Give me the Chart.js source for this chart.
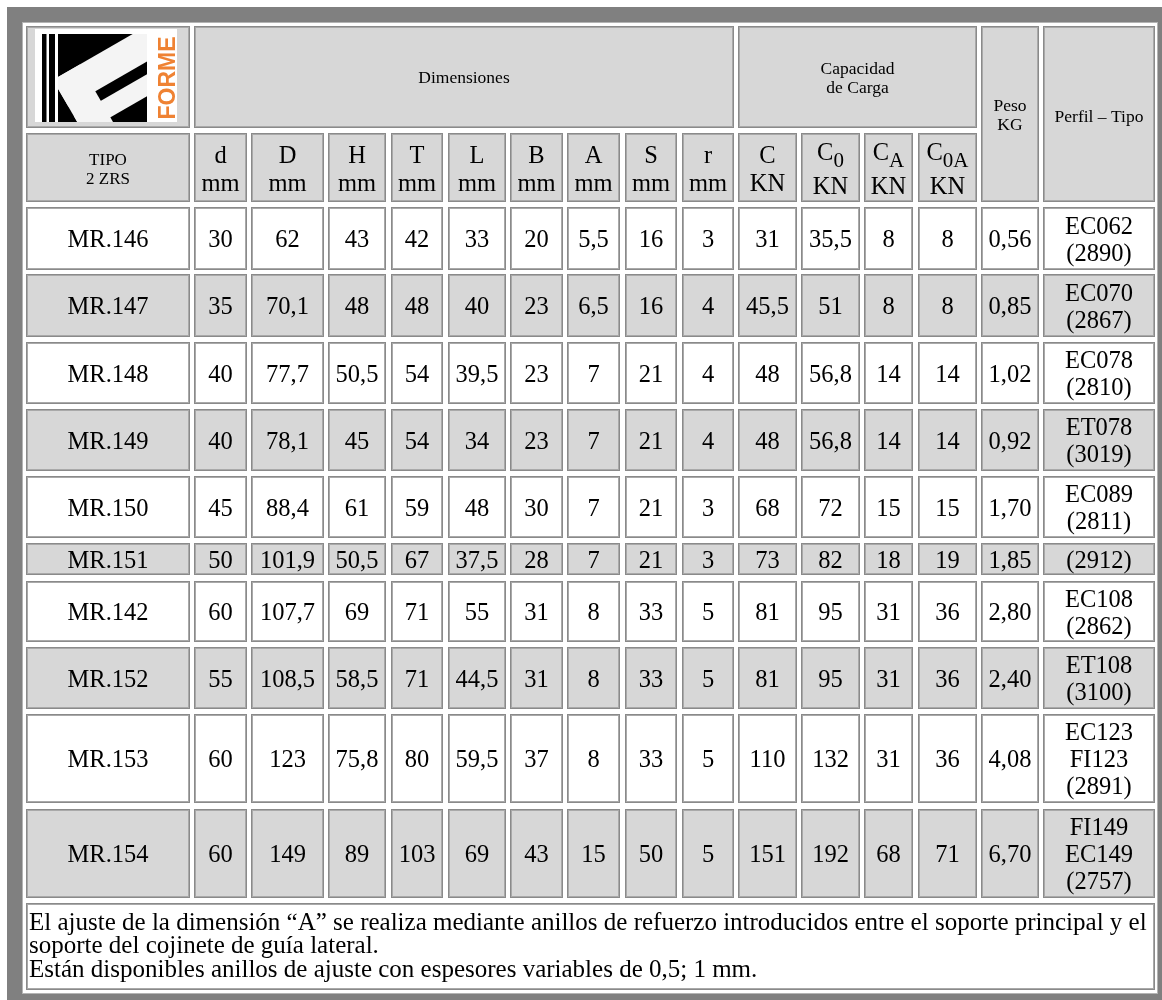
<!DOCTYPE html>
<html lang="es">
<head>
<meta charset="utf-8">
<title>Soportes MR - Forme</title>
<script src="https://cdn.jsdelivr.net/npm/chart.js@4.4.1/dist/chart.umd.min.js"></script>
<style>
  html, body { margin: 0; padding: 0; background: #fff; }
  #wrap { width: 1162px; height: 1000px; }
</style>
</head>
<body>
<div id="wrap"><canvas id="tabla" width="1162" height="1000"></canvas></div>
<script>
// datos de la tabla
const tipos = ['MR.146', 'MR.147', 'MR.148', 'MR.149', 'MR.150', 'MR.151', 'MR.142', 'MR.152', 'MR.153', 'MR.154'];
const dMm = [30, 35, 40, 40, 45, 50, 60, 55, 60, 60];
const DMm = [62, 70.1, 77.7, 78.1, 88.4, 101.9, 107.7, 108.5, 123, 149];
const HMm = [43, 48, 50.5, 45, 61, 50.5, 69, 58.5, 75.8, 89];
const TMm = [42, 48, 54, 54, 59, 67, 71, 71, 80, 103];
const LMm = [33, 40, 39.5, 34, 48, 37.5, 55, 44.5, 59.5, 69];
const BMm = [20, 23, 23, 23, 30, 28, 31, 31, 37, 43];
const AMm = [5.5, 6.5, 7, 7, 7, 7, 8, 8, 8, 15];
const SMm = [16, 16, 21, 21, 21, 21, 33, 33, 33, 50];
const rMm = [3, 4, 4, 4, 3, 3, 5, 5, 5, 5];
const cKN = [31, 45.5, 48, 48, 68, 73, 81, 81, 110, 151];
const c0KN = [35.5, 51, 56.8, 56.8, 72, 82, 95, 95, 132, 192];
const cAKN = [8, 8, 14, 14, 15, 18, 31, 31, 31, 68];
const c0AKN = [8, 8, 14, 14, 15, 19, 36, 36, 36, 71];
const pesoKg = [0.56, 0.85, 1.02, 0.92, 1.70, 1.85, 2.80, 2.40, 4.08, 6.70];
const perfiles = [
    ['EC062', '(2890)'], ['EC070', '(2867)'], ['EC078', '(2810)'], ['ET078', '(3019)'],
    ['EC089', '(2811)'], ['(2912)'], ['EC108', '(2862)'], ['ET108', '(3100)'],
    ['EC123', 'FI123', '(2891)'], ['FI149', 'EC149', '(2757)']
];

// textos de cabecera
const cabTipo = ['TIPO', '2 ZRS'];
const colSimbolo = ['d', 'D', 'H', 'T', 'L', 'B', 'A', 'S', 'r', 'C', 'C', 'C', 'C'];
const colSubindice = ['', '', '', '', '', '', '', '', '', '', '0', 'A', '0A'];
const colUnidad = ['mm', 'mm', 'mm', 'mm', 'mm', 'mm', 'mm', 'mm', 'mm', 'KN', 'KN', 'KN', 'KN'];
const cabDimensiones = ['Dimensiones'];
const cabCapacidad = ['Capacidad', 'de Carga'];
const cabPeso = ['Peso', 'KG'];
const cabPerfil = ['Perfil – Tipo'];
const notas = [
    'El ajuste de la dimensión “A” se realiza mediante anillos de refuerzo introducidos entre el soporte principal y el',
    'soporte del cojinete de guía lateral.',
    'Están disponibles anillos de ajuste con espesores variables de 0,5; 1 mm.'
];

// maquetacion (bordes de celdas en unidades de escala)
const colLeft = [26, 194, 251, 328, 391, 448, 510, 567, 625, 682, 738, 801, 864, 918, 981, 1043];
const colRight = [190, 247, 324, 386, 443, 506, 563, 620, 677, 734, 797, 860, 913, 977, 1039, 1155];
const rowTop = [207, 274, 342, 409, 476, 543, 581, 647, 714, 809];
const rowBottom = [270, 337, 404, 471, 538, 575, 642, 709, 803, 898];

const SERIF = "'Liberation Serif', 'Times New Roman', serif";
const GRIS = '#d7d7d7';
const TAM = 24.5;

const coma = v => String(v).replace('.', ',');

const columnas = [
    tipos.map(t => [t]),
    ...[dMm, DMm, HMm, TMm, LMm, BMm, AMm, SMm, rMm, cKN, c0KN, cAKN, c0AKN].map(arr => arr.map(v => [coma(v)])),
    pesoKg.map(v => [v.toFixed(2).replace('.', ',')]),
    perfiles
];

const datasets = columnas.map((col, c) => ({
    label: 'col' + c,
    texto: col,
    data: col.map((_, i) => ({ x: (colLeft[c] + colRight[c]) / 2, y: (rowTop[i] + rowBottom[i]) / 2 })),
    pointRadius: 0
}));

function celda(chart, l, r, t, b, fondo) {
    const { ctx, scales: { x, y } } = chart;
    const L = x.getPixelForValue(l), R = x.getPixelForValue(r);
    const T = y.getPixelForValue(t), B = y.getPixelForValue(b);
    ctx.fillStyle = fondo;
    ctx.fillRect(L, T, R - L, B - T);
    ctx.lineWidth = 1;
    ctx.strokeStyle = '#8a8a8a';
    ctx.strokeRect(L + 0.5, T + 0.5, R - L - 1, B - T - 1);
    ctx.strokeStyle = '#a9a9a9';
    ctx.strokeRect(L + 1.5, T + 1.5, R - L - 3, B - T - 3);
}

function lineas(chart, textos, cx, base, size, lh) {
    const { ctx, scales: { x, y } } = chart;
    ctx.font = size + 'px ' + SERIF;
    ctx.fillStyle = '#000';
    ctx.textAlign = 'center';
    ctx.textBaseline = 'alphabetic';
    textos.forEach((t, k) => ctx.fillText(t, x.getPixelForValue(cx), y.getPixelForValue(base + k * lh)));
}

function dibujarLogo(chart) {
    const { ctx, scales: { x, y } } = chart;
    const px = v => x.getPixelForValue(v), py = v => y.getPixelForValue(v);
    ctx.save();
    ctx.fillStyle = '#fff';
    ctx.fillRect(px(35), py(29), px(177) - px(35), py(122) - py(29));
    ctx.fillStyle = '#000';
    ctx.fillRect(px(42), py(34), 4.5, py(122) - py(34));
    ctx.fillRect(px(49), py(34), 6, py(122) - py(34));
    ctx.fillRect(px(58), py(34), px(147) - px(58), py(122) - py(34));
    // F blanca girada
    ctx.beginPath();
    ctx.rect(px(58), py(34), px(147) - px(58), py(122) - py(34));
    ctx.clip();
    ctx.translate(px(53), py(80));
    ctx.rotate(-Math.PI / 6);
    ctx.fillStyle = '#f4f4f4';
    ctx.fillRect(0, 0, 140, 31);
    ctx.fillRect(0, 0, 31, 130);
    ctx.fillRect(0, 42, 110, 19);
    ctx.restore();
    // FORME
    ctx.save();
    ctx.translate(px(175), py(78));
    ctx.rotate(-Math.PI / 2);
    ctx.fillStyle = '#ef8233';
    ctx.font = "bold 23px 'Liberation Sans', Arial, sans-serif";
    ctx.textAlign = 'center';
    ctx.textBaseline = 'alphabetic';
    ctx.fillText('FORME', 0, 0, 88);
    ctx.restore();
}

const tablaPlugin = {
    id: 'tabla',
    beforeDatasetsDraw(chart) {
        const { ctx, scales: { x, y } } = chart;
        ctx.save();
        // marco gris exterior
        ctx.fillStyle = '#fff';
        ctx.fillRect(0, 0, chart.width, chart.height);
        ctx.fillStyle = '#808080';
        ctx.fillRect(x.getPixelForValue(7), y.getPixelForValue(7), x.getPixelForValue(1162) - x.getPixelForValue(7), y.getPixelForValue(1000) - y.getPixelForValue(7));
        ctx.fillStyle = '#fff';
        ctx.fillRect(x.getPixelForValue(22), y.getPixelForValue(22), x.getPixelForValue(1158) - x.getPixelForValue(22), y.getPixelForValue(994) - y.getPixelForValue(22));
        ctx.strokeStyle = '#b4b4b4';
        ctx.lineWidth = 1;
        ctx.strokeRect(x.getPixelForValue(22) + 0.5, y.getPixelForValue(22) + 0.5, x.getPixelForValue(1158) - x.getPixelForValue(22) - 1, y.getPixelForValue(994) - y.getPixelForValue(22) - 1);

        // cabecera
        celda(chart, 26, 190, 26, 128, GRIS);
        celda(chart, 194, 734, 26, 128, GRIS);
        celda(chart, 738, 977, 26, 128, GRIS);
        celda(chart, 981, 1039, 26, 202, GRIS);
        celda(chart, 1043, 1155, 26, 202, GRIS);
        for (let c = 0; c < 14; c++) celda(chart, colLeft[c], colRight[c], 133, 202, GRIS);
        dibujarLogo(chart);

        lineas(chart, cabDimensiones, 464, 83, 17.5, 19);
        lineas(chart, cabCapacidad, 857.5, 74, 17.5, 19);
        lineas(chart, cabPeso, 1010, 111, 17.5, 19);
        lineas(chart, cabPerfil, 1099, 122, 17.5, 19);
        lineas(chart, cabTipo, 108, 165, 17, 19);

        colSimbolo.forEach((s, k) => {
            const c = k + 1;
            const cx = x.getPixelForValue((colLeft[c] + colRight[c]) / 2);
            const sub = colSubindice[k];
            ctx.fillStyle = '#000';
            ctx.textBaseline = 'alphabetic';
            if (sub) {
                ctx.font = TAM + 'px ' + SERIF;
                const w1 = ctx.measureText(s).width;
                ctx.font = '21px ' + SERIF;
                const w2 = ctx.measureText(sub).width;
                const x0 = cx - (w1 + w2) / 2;
                ctx.textAlign = 'left';
                ctx.font = TAM + 'px ' + SERIF;
                ctx.fillText(s, x0, y.getPixelForValue(160));
                ctx.font = '21px ' + SERIF;
                ctx.fillText(sub, x0 + w1, y.getPixelForValue(167));
                lineas(chart, [colUnidad[k]], (colLeft[c] + colRight[c]) / 2, 194, TAM, 0);
            } else {
                lineas(chart, [s, colUnidad[k]], (colLeft[c] + colRight[c]) / 2, 163, TAM, 28);
            }
        });

        // filas de datos
        rowTop.forEach((t, i) => {
            const fondo = i % 2 === 0 ? '#fff' : GRIS;
            colLeft.forEach((l, c) => celda(chart, l, colRight[c], t, rowBottom[i], fondo));
        });

        // notas
        celda(chart, 26, 1155, 903, 990, '#fff');
        ctx.font = '25px ' + SERIF;
        ctx.fillStyle = '#000';
        ctx.textAlign = 'left';
        notas.forEach((n, k) => ctx.fillText(n, x.getPixelForValue(29), y.getPixelForValue(929.5 + k * 23.5)));
        ctx.restore();
    },
    afterDatasetsDraw(chart) {
        const { ctx } = chart;
        ctx.save();
        ctx.font = TAM + 'px ' + SERIF;
        ctx.fillStyle = '#000';
        ctx.textAlign = 'center';
        ctx.textBaseline = 'alphabetic';
        chart.data.datasets.forEach((ds, c) => {
            chart.getDatasetMeta(c).data.forEach((el, i) => {
                const txt = ds.texto[i];
                txt.forEach((t, k) => {
                    ctx.fillText(t, el.x, el.y + 8.5 + (k - (txt.length - 1) / 2) * 27);
                });
            });
        });
        ctx.restore();
    }
};

new Chart(document.getElementById('tabla').getContext('2d'), {
    type: 'scatter',
    data: { datasets },
    options: {
        responsive: false,
        animation: false,
        events: [],
        layout: { padding: 0 },
        plugins: { legend: { display: false }, tooltip: { enabled: false } },
        scales: {
            x: { type: 'linear', min: 0, max: 1162, display: false },
            y: { type: 'linear', min: 0, max: 1000, reverse: true, display: false }
        }
    },
    plugins: [tablaPlugin]
});
</script>
</body>
</html>
